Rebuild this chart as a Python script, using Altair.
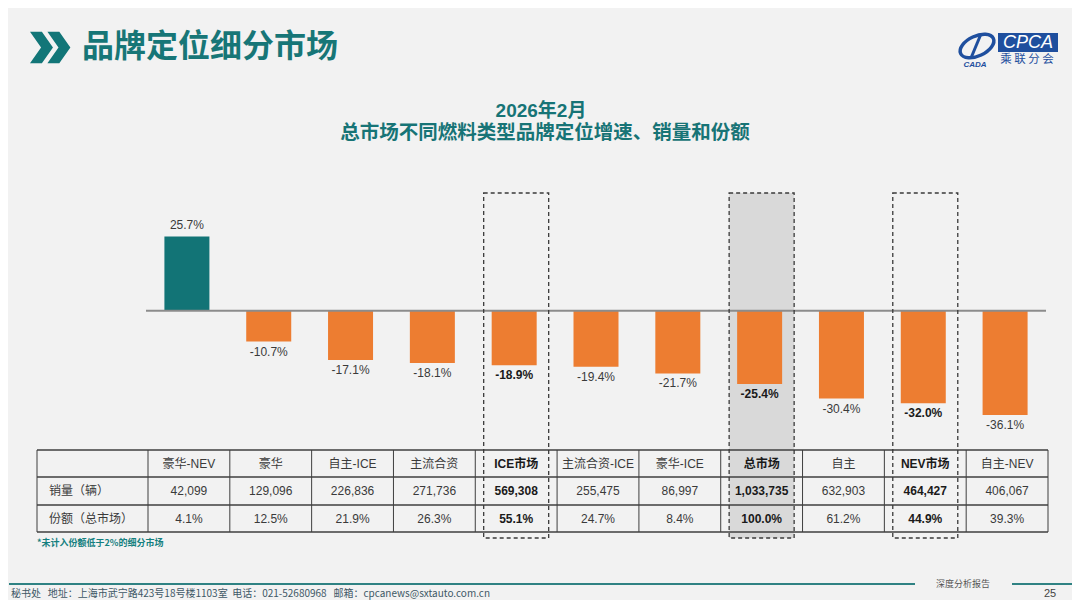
import altair as alt
import pandas as pd

# ---------------- data ----------------
categories = ["豪华-NEV", "豪华", "自主-ICE", "主流合资", "ICE市场", "主流合资-ICE",
              "豪华-ICE", "总市场", "自主", "NEV市场", "自主-NEV"]
growth = [25.7, -10.7, -17.1, -18.1, -18.9, -19.4, -21.7, -25.4, -30.4, -32.0, -36.1]
sales = [42099, 129096, 226836, 271736, 569308, 255475, 86997, 1033735, 632903, 464427, 406067]
share = [4.1, 12.5, 21.9, 26.3, 55.1, 24.7, 8.4, 100.0, 61.2, 44.9, 39.3]
highlighted = ["ICE市场", "总市场", "NEV市场"]
row_labels = ["销量（辆）", "份额（总市场）"]

page_title = "品牌定位细分市场"
chart_title = ["2026年2月", "总市场不同燃料类型品牌定位增速、销量和份额"]
footnote = "*未计入份额低于2%的细分市场"
NB = "\u00a0"
footer_text = ("秘书处" + NB * 3 + "地址：上海市武宁路423号18号楼1103室" + NB * 2 + "电话：021-52680968"
               + NB * 3 + "邮箱：cpcanews@sxtauto.com.cn")
footer_tag = "深度分析报告"
page_no = "25"

df = pd.DataFrame({"cat": categories, "growth": growth, "sales": sales, "share": share})
df["bold"] = df["cat"].isin(highlighted)

# ---------------- styles ----------------
W, H = 1064, 592
TEAL = "#127476"
ORANGE = "#ed7d31"
TXT = "#3a3a3a"
FONT = "Liberation Sans, Noto Sans CJK SC"
CJK = "Noto Sans CJK SC"
BLUE = "#1f4f9e"
BX = -2  # small horizontal shift of bars inside their columns

xscale = alt.Scale(domain=categories, range=[139, 1039], paddingInner=0, paddingOuter=0)
zero_y = 302.7
ppu = 2.89
yscale = alt.Scale(domain=[-50, 50], range=[zero_y + 50 * ppu, zero_y - 50 * ppu], zero=False, nice=False)

X = alt.X("cat:N", scale=xscale, axis=None, sort=categories)
Y = alt.Y("growth:Q", scale=yscale, axis=None)

base = alt.Chart(df).transform_calculate(
    glabel="(datum.growth < 0 ? '-' : '') + format(abs(datum.growth), '.1f') + '%'",
    slabel="format(datum.sales, ',')",
    sharelabel="format(datum.share, '.1f') + '%'",
)
one = pd.DataFrame({"k": [0]})


def deco():
    return alt.Chart(one)


def txt(s, x, y, **kw):
    return deco().mark_text(**kw).encode(x=alt.value(x), y=alt.value(y), text=alt.value(s))


layers = []

# highlight box fill (total market)
layers.append(
    base.transform_filter(alt.datum.cat == "总市场").mark_bar(width=65, fill="#d9d9d9").encode(
        x=X, y=alt.value(185), y2=alt.value(530))
)

# bars
layers.append(
    base.mark_bar(width=45, xOffset=BX).encode(
        x=X, y=Y, y2=alt.datum(0),
        color=alt.condition(alt.datum.growth > 0, alt.value(TEAL), alt.value(ORANGE)),
    )
)

# zero line
layers.append(
    deco().mark_rule(color="#8c8c8c", strokeWidth=2).encode(
        x=alt.value(137), x2=alt.value(1037), y=alt.Y("k:Q", scale=yscale, axis=None))
)

# growth labels
layers.append(
    base.transform_filter(alt.datum.growth > 0).mark_text(
        baseline="bottom", dy=-4, dx=BX, fontSize=12, font=FONT, color=TXT).encode(x=X, y=Y, text="glabel:N")
)
layers.append(
    base.transform_filter((alt.datum.growth < 0) & (alt.datum.bold == False)).mark_text(
        baseline="top", dy=5, dx=BX, fontSize=12, font=FONT, color=TXT).encode(x=X, y=Y, text="glabel:N")
)
layers.append(
    base.transform_filter((alt.datum.growth < 0) & (alt.datum.bold == True)).mark_text(
        baseline="top", dy=5, dx=BX, fontSize=12, font=FONT, color="#1a1a1a", fontWeight="bold").encode(
        x=X, y=Y, text="glabel:N")
)

# table grid
row_y = [442, 469, 497, 524]
for yy in row_y:
    layers.append(
        deco().mark_rule(color="#3f3f3f", strokeWidth=1.5).encode(
            x=alt.value(28), x2=alt.value(1039), y=alt.value(yy))
    )
for xx in [28, 139]:
    layers.append(
        deco().mark_rule(color="#3f3f3f", strokeWidth=1).encode(
            x=alt.value(xx), y=alt.value(442), y2=alt.value(524))
    )
layers.append(
    base.mark_rule(color="#3f3f3f", strokeWidth=1).encode(
        x=alt.X("cat:N", scale=xscale, axis=None, sort=categories, bandPosition=1),
        y=alt.value(442), y2=alt.value(524))
)

# table text
rows = [("cat:N", 455.5), ("slabel:N", 483), ("sharelabel:N", 510.5)]
for field, yy in rows:
    layers.append(
        base.transform_filter(alt.datum.bold == False).mark_text(
            fontSize=12, font=FONT, color=TXT, baseline="middle").encode(
            x=X, y=alt.value(yy), text=field)
    )
    layers.append(
        base.transform_filter(alt.datum.bold == True).mark_text(
            fontSize=12, font=FONT, color="#1a1a1a", fontWeight="bold", baseline="middle").encode(
            x=X, y=alt.value(yy), text=field)
    )
layers.append(txt(row_labels[0], 40, 483, align="left", baseline="middle", fontSize=12, font=FONT, color=TXT))
layers.append(txt(row_labels[1], 40, 510.5, align="left", baseline="middle", fontSize=12, font=FONT, color=TXT))

# dashed highlight outlines
layers.append(
    base.transform_filter(alt.datum.bold == True).mark_bar(
        width=65, fill="transparent", stroke="#3a3a3a", strokeDash=[4, 3], strokeWidth=1.3).encode(
        x=X, y=alt.value(185), y2=alt.value(530))
)

# footnote
layers.append(txt(footnote, 28, 535, align="left", baseline="middle", fontSize=9, font=CJK,
                  fontWeight="bold", color="#13807f"))

# titles
layers.append(txt(chart_title[0], 532, 103, align="center", baseline="middle", fontSize=19,
                  font=FONT, fontWeight="bold", color="#177476"))
layers.append(txt(chart_title[1], 536, 125, align="center", baseline="middle", fontSize=19.5,
                  font=FONT, fontWeight="bold", color="#177476"))

# page header
chev = ("M -1 -0.77 L -0.42 -0.77 L 0.12 0 L -0.42 0.77 L -1 0.77 L -0.46 0 Z "
        "M -0.15 -0.77 L 0.43 -0.77 L 0.97 0 L 0.43 0.77 L -0.15 0.77 L 0.39 0 Z")
layers.append(
    deco().mark_point(shape=chev, size=1681, filled=True, fill="#127678", strokeWidth=0, opacity=1).encode(
        x=alt.value(41.5), y=alt.value(39.5))
)
layers.append(txt(page_title, 73, 39, align="left", baseline="middle", fontSize=32, font=CJK,
                  fontWeight="bold", color="#177677"))

# CPCA logo
layers.append(
    deco().mark_rect(color=BLUE).encode(x=alt.value(989), x2=alt.value(1049), y=alt.value(25), y2=alt.value(44))
)
layers.append(txt("CPCA", 1019, 35, align="center", baseline="middle", fontSize=18, font=FONT,
                  fontStyle="italic", color="white"))
layers.append(txt("乘 联 分 会", 1018, 52, align="center", baseline="middle", fontSize=11.5, font=CJK,
                  color=BLUE))
ring = "M -1 0 A 1 0.55 0 1 0 1 0 A 1 0.55 0 1 0 -1 0 Z"
layers.append(
    deco().mark_point(shape=ring, size=1300, filled=False, stroke=BLUE, strokeWidth=3.5, angle=335,
                      opacity=1).encode(x=alt.value(968), y=alt.value(38))
)
layers.append(
    deco().mark_rule(color=BLUE, strokeWidth=3).encode(
        x=alt.value(972), x2=alt.value(962), y=alt.value(26), y2=alt.value(50))
)
layers.append(txt("CADA", 966, 57, align="center", baseline="middle", fontSize=8, font=FONT,
                  fontStyle="italic", fontWeight="bold", color=BLUE))

# footer
layers.append(
    deco().mark_rule(color="#2f8283", strokeWidth=2).encode(x=alt.value(0), x2=alt.value(906), y=alt.value(576))
)
layers.append(
    deco().mark_rule(color="#2f8283", strokeWidth=2).encode(x=alt.value(1003), x2=alt.value(1064), y=alt.value(576))
)
layers.append(txt(footer_tag, 954, 576, align="center", baseline="middle", fontSize=9, font=CJK, color="#555555"))
layers.append(txt(footer_text, 2, 586, align="left", baseline="middle", fontSize=10, font=CJK, color="#3e5866"))
layers.append(txt(page_no, 1041, 586, align="center", baseline="middle", fontSize=11, font=FONT, color="#444444"))

chart = alt.layer(*layers).properties(
    width=W, height=H,
    autosize=alt.AutoSizeParams(type="fit", contains="padding"),
    padding=0,
    background="#f2f2f2",
).configure_view(stroke=None)

chart.save("out.html", embed_options={"renderer": "svg", "actions": False})
